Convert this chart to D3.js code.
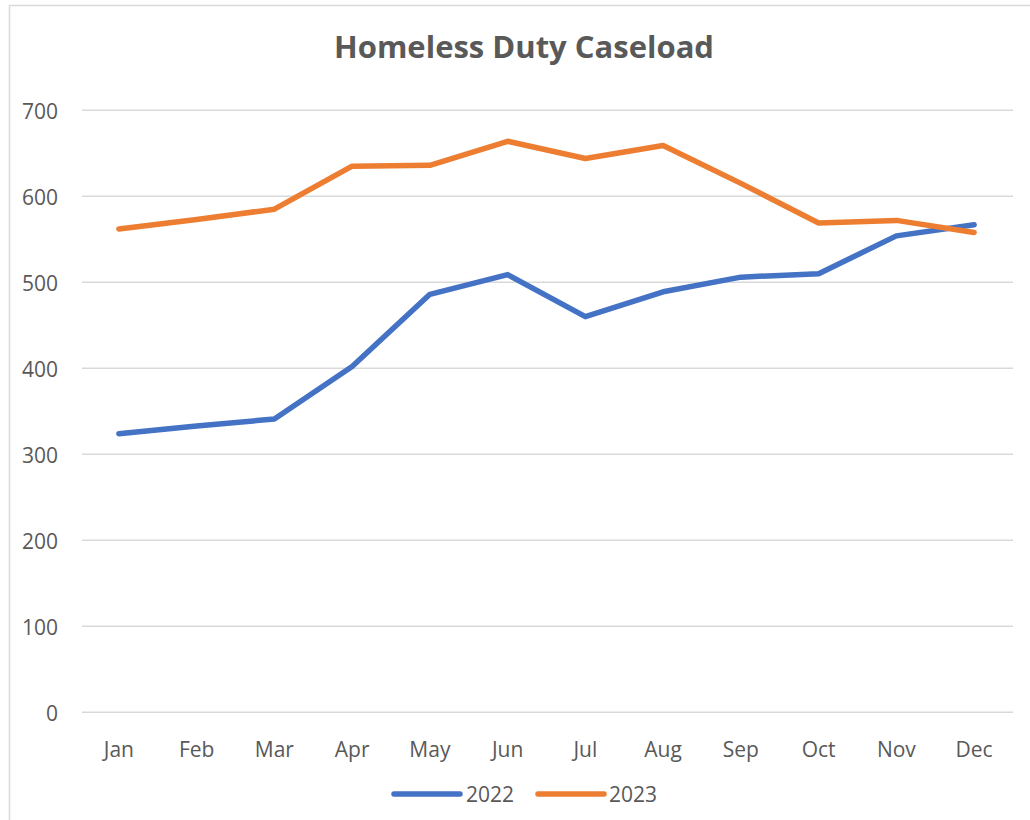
<!DOCTYPE html>
<html><head><meta charset="utf-8">
<script src="https://cdn.jsdelivr.net/npm/d3@7"></script>
<style>html,body{margin:0;padding:0;background:#fff;}svg{display:block;}</style>
</head><body>
<svg id="chart" width="1030" height="820"></svg>
<script>
const months = ["Jan","Feb","Mar","Apr","May","Jun","Jul","Aug","Sep","Oct","Nov","Dec"];
const values2022 = [324, 333, 341, 402, 486, 509, 460, 489, 506, 510, 554, 567];
const values2023 = [562, 573, 585, 635, 636, 664, 644, 659, 615, 569, 572, 558];
const seriesNames = ["2022", "2023"];
const yTicks = [0, 100, 200, 300, 400, 500, 600, 700];

const series = [
  {name: seriesNames[0], values: values2022, color: "#4472C4"},
  {name: seriesNames[1], values: values2023, color: "#ED7D31"}
];

const svg = d3.select("#chart");
const W = 1030, H = 820;
const margin = {left: 80, right: 17, top: 110.3, bottom: 107.7};

svg.append("rect").attr("x", 9.5).attr("y", 5.5).attr("width", W + 20).attr("height", H + 20)
  .attr("fill", "#fff").attr("stroke", "#d9d9d9").attr("stroke-width", 1.5);

const x = d3.scaleBand().domain(months).range([margin.left, W - margin.right]);
const y = d3.scaleLinear().domain([0, 700]).range([H - margin.bottom, margin.top]);

// gridlines
svg.append("g").selectAll("line").data(yTicks).join("line")
  .attr("x1", margin.left + 2).attr("x2", W - margin.right)
  .attr("y1", d => y(d)).attr("y2", d => y(d))
  .attr("stroke", "#d9d9d9").attr("stroke-width", 1.5);

const font = "'Open Sans', sans-serif";

// y labels
const yAxis = d3.axisLeft(y).tickValues(yTicks).tickSize(0).tickPadding(0);
const gy = svg.append("g").attr("transform", `translate(58,0)`).call(yAxis);
gy.select(".domain").remove();
gy.selectAll("text").attr("fill", "#595959").attr("dy", "0.38em").style("font-family", font).style("font-size", "21px");

// x labels
const xAxis = d3.axisBottom(x).tickSize(0).tickPadding(0);
const gx = svg.append("g").attr("transform", `translate(0,757)`).call(xAxis);
gx.select(".domain").remove();
gx.selectAll("text").attr("dy", 0).attr("fill", "#595959").style("font-family", font).style("font-size", "21px");

// lines
const line = d3.line().x((d, i) => x(months[i]) + x.bandwidth() / 2).y(d => y(d));
svg.append("g").selectAll("path").data(series).join("path")
  .attr("d", d => line(d.values))
  .attr("fill", "none").attr("stroke", d => d.color).attr("stroke-width", 5.5)
  .attr("stroke-linejoin", "round").attr("stroke-linecap", "round");

// title
svg.append("text").attr("x", 524).attr("y", 58).attr("text-anchor", "middle")
  .attr("fill", "#595959").style("font-family", font).style("font-weight", "bold").style("font-size", "31px")
  .text("Homeless Duty Caseload");

// legend
const legendPos = [{lx: 394, tx: 466}, {lx: 538, tx: 609}];
const lg = svg.append("g").selectAll("g").data(series).join("g");
lg.append("line")
  .attr("x1", (d, i) => legendPos[i].lx).attr("x2", (d, i) => legendPos[i].lx + 66)
  .attr("y1", 794).attr("y2", 794)
  .attr("stroke", d => d.color).attr("stroke-width", 5.5).attr("stroke-linecap", "round");
lg.append("text")
  .attr("x", (d, i) => legendPos[i].tx).attr("y", 802)
  .attr("fill", "#595959").style("font-family", font).style("font-size", "21px")
  .text(d => d.name);
</script>
</body></html>
